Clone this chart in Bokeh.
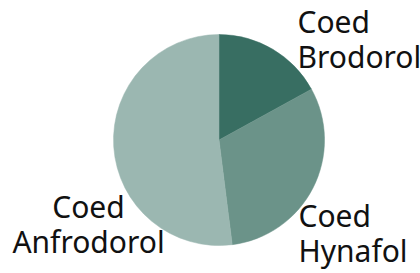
import math
from bokeh.plotting import figure
from bokeh.models import Range1d
from bokeh.core.properties import value
from bokeh.embed import file_html
from bokeh.resources import INLINE

# ---- data ----
categories = ["Coed Brodorol", "Coed Hynafol", "Coed Anfrodorol"]
shares = [17, 31, 52]
label_texts = ["Coed\nBrodorol", "Coed\nHynafol", "Coed\nAnfrodorol"]

# ---- styles / layout ----
colors = ["#386e62", "#6b9389", "#9bb7b1"]
W, H = 420, 273
CX, CY, R = 218.5, H - 139.5, 105.5
label_pos = [(297, H - 0, "left"), (298, H - 194, "left"), (88, H - 185, "center")]

p = figure(width=W, height=H, output_backend="svg", toolbar_location=None,
           x_range=Range1d(0, W), y_range=Range1d(0, H),
           x_axis_location=None, y_axis_location=None,
           min_border=0, min_border_left=0, min_border_right=0,
           min_border_top=0, min_border_bottom=0,
           outline_line_color=None, background_fill_color="white",
           border_fill_color="white")
p.grid.visible = False

total = sum(shares)
cum = 0.0
starts, ends = [], []
for s in shares:
    starts.append(math.pi / 2 - 2 * math.pi * cum / total)
    cum += s
    ends.append(math.pi / 2 - 2 * math.pi * cum / total)

p.wedge(x=[CX] * len(shares), y=[CY] * len(shares), radius=R, radius_units="screen",
        start_angle=starts, end_angle=ends, direction="clock",
        fill_color=colors, line_color=colors, line_width=0.5)

for txt, (lx, ly, al) in zip(label_texts, label_pos):
    p.text(x=[lx], y=[ly], text=[txt], text_align=al, text_baseline="top",
           text_font=value("Noto Sans"), text_font_size="30px",
           text_line_height=0.86, text_color="#111111")

open("out.html", "w").write(file_html(p, INLINE))
